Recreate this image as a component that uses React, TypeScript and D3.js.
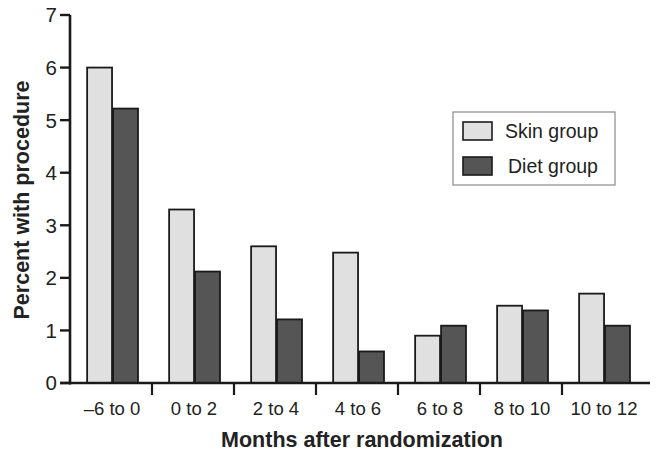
import React from 'react'
import * as d3 from 'd3'

// months after randomization
const periods = ['\u20136 to 0', '0 to 2', '2 to 4', '4 to 6', '6 to 8', '8 to 10', '10 to 12']
const skinGroup = [6.0, 3.3, 2.6, 2.48, 0.9, 1.47, 1.7]
const dietGroup = [5.22, 2.12, 1.21, 0.6, 1.09, 1.38, 1.09]
const yTicks = [0, 1, 2, 3, 4, 5, 6, 7]
const seriesNames = ['Skin group', 'Diet group']
const seriesColors = ['#e0e0e0', '#555555']

const W = 660, H = 463
const font = 'Arial, "Liberation Sans", Helvetica, sans-serif'

export default function App() {
  const left = 70, top = 15, bottom = 383, right = 644

  const x = d3.scaleBand().domain(periods).range([left, right]).paddingInner(0).paddingOuter(0)
  const inner = d3.scaleBand().domain(seriesNames).range([0, x.bandwidth()])
    .paddingOuter(0.6).paddingInner(0.04).align(0.55)
  const y = d3.scaleLinear().domain([0, 7]).range([bottom, top])

  const rows = periods.map((p, i) => ({ p, vals: [skinGroup[i], dietGroup[i]] }))

  return (
    <svg width={W} height={H} style={{ position: 'absolute', left: 0, top: 0, background: '#fff' }}
      fontFamily={font}>
      {/* bars */}
      {rows.map(r => (
        <g key={r.p} transform={`translate(${x(r.p)},0)`}>
          {r.vals.map((v, j) => (
            <rect key={j} x={inner(seriesNames[j])} y={y(v)} width={inner.bandwidth()} height={y(0) - y(v)}
              fill={seriesColors[j]} stroke="#1a1a1a" strokeWidth={1.8} />
          ))}
        </g>
      ))}

      {/* y axis */}
      <line x1={left} x2={left} y1={top} y2={bottom + 1.5} stroke="#1a1a1a" strokeWidth={2.6} />
      {yTicks.map(t => (
        <g key={t}>
          <line x1={left - 10} x2={left} y1={y(t)} y2={y(t)} stroke="#1a1a1a" strokeWidth={2.4} />
          <text x={left - 13} y={y(t)} dy="0.36em" textAnchor="end" fontSize={20.5} fill="#222">{t}</text>
        </g>
      ))}

      {/* x axis */}
      <line x1={left - 10} x2={650} y1={bottom} y2={bottom} stroke="#1a1a1a" strokeWidth={2.6} />
      {periods.slice(1).map(p => (
        <line key={p} x1={x(p)} x2={x(p)} y1={bottom} y2={bottom + 12} stroke="#1a1a1a" strokeWidth={2.2} />
      ))}
      {periods.map(p => (
        <text key={p} x={x(p)! + x.bandwidth() / 2 + 1} y={415} textAnchor="middle" fontSize={18.5} fill="#222">{p}</text>
      ))}

      <text x={362} y={447} textAnchor="middle" fontSize={21.5} fontWeight="bold" fill="#222">
        Months after randomization
      </text>
      <text transform={`translate(29,${200}) rotate(-90)`} textAnchor="middle" fontSize={21.5}
        fontWeight="bold" fill="#222">Percent with procedure</text>

      {/* legend */}
      <g transform="translate(453,112)">
        <rect x={0} y={0} width={162} height={73} fill="#fff" stroke="#8a8a8a" strokeWidth={1.2} />
        {seriesNames.map((s, i) => (
          <g key={s} transform={`translate(10,${10 + i * 35})`}>
            <rect x={0} y={0} width={29} height={18} fill={seriesColors[i]} stroke="#1a1a1a" strokeWidth={1.6} />
            <text x={i === 0 ? 42 : 45} y={9} dy="0.36em" fontSize={19.5} fill="#222">{s}</text>
          </g>
        ))}
      </g>
    </svg>
  )
}
